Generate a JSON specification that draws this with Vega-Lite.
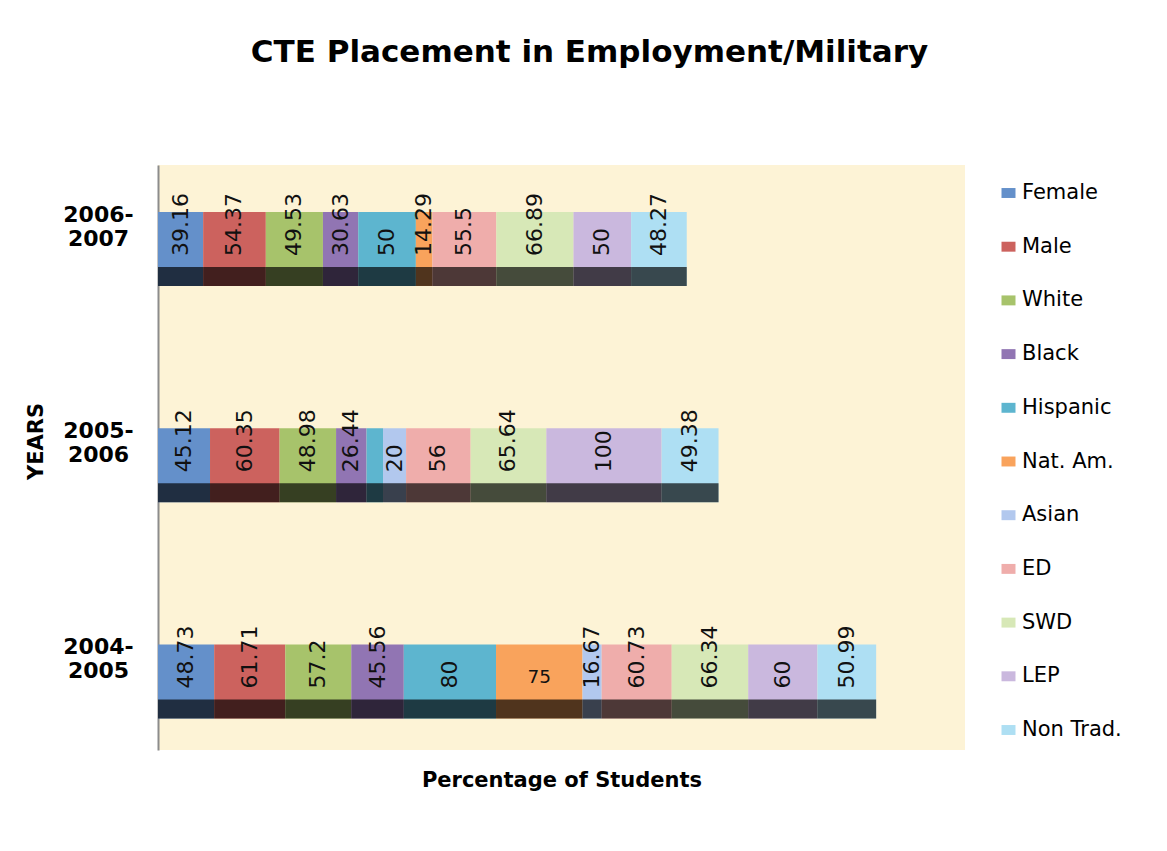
{
  "$schema": "https://vega.github.io/schema/vega-lite/v6.json",
  "autosize": "none",
  "width": 807,
  "height": 585,
  "padding": {"left": 158, "top": 165, "right": 202, "bottom": 101},
  "background": "white",
  "title": {
    "text": "CTE Placement in Employment/Military",
    "font": "DejaVu Sans",
    "fontSize": 31,
    "fontWeight": "bold",
    "color": "#000000",
    "anchor": "middle",
    "frame": "group",
    "offset": 96,
    "dx": 28
  },
  "config": {
    "view": {"fill": "#fdf3d6", "stroke": null},
    "font": "DejaVu Sans"
  },
  "data": {
    "values": [
      {"year": "2006-2007", "cat": "Female", "idx": 0, "value": 39.16, "label": "39.16"},
      {"year": "2006-2007", "cat": "Male", "idx": 1, "value": 54.37, "label": "54.37"},
      {"year": "2006-2007", "cat": "White", "idx": 2, "value": 49.53, "label": "49.53"},
      {"year": "2006-2007", "cat": "Black", "idx": 3, "value": 30.63, "label": "30.63"},
      {"year": "2006-2007", "cat": "Hispanic", "idx": 4, "value": 50, "label": "50"},
      {"year": "2006-2007", "cat": "Nat. Am.", "idx": 5, "value": 14.29, "label": "14.29"},
      {"year": "2006-2007", "cat": "ED", "idx": 7, "value": 55.5, "label": "55.5"},
      {"year": "2006-2007", "cat": "SWD", "idx": 8, "value": 66.89, "label": "66.89"},
      {"year": "2006-2007", "cat": "LEP", "idx": 9, "value": 50, "label": "50"},
      {"year": "2006-2007", "cat": "Non Trad.", "idx": 10, "value": 48.27, "label": "48.27"},
      {"year": "2005-2006", "cat": "Female", "idx": 0, "value": 45.12, "label": "45.12"},
      {"year": "2005-2006", "cat": "Male", "idx": 1, "value": 60.35, "label": "60.35"},
      {"year": "2005-2006", "cat": "White", "idx": 2, "value": 48.98, "label": "48.98"},
      {"year": "2005-2006", "cat": "Black", "idx": 3, "value": 26.44, "label": "26.44"},
      {"year": "2005-2006", "cat": "Hispanic", "idx": 4, "value": 14.3, "label": ""},
      {"year": "2005-2006", "cat": "Asian", "idx": 6, "value": 20, "label": "20"},
      {"year": "2005-2006", "cat": "ED", "idx": 7, "value": 56, "label": "56"},
      {"year": "2005-2006", "cat": "SWD", "idx": 8, "value": 65.64, "label": "65.64"},
      {"year": "2005-2006", "cat": "LEP", "idx": 9, "value": 100, "label": "100"},
      {"year": "2005-2006", "cat": "Non Trad.", "idx": 10, "value": 49.38, "label": "49.38"},
      {"year": "2004-2005", "cat": "Female", "idx": 0, "value": 48.73, "label": "48.73"},
      {"year": "2004-2005", "cat": "Male", "idx": 1, "value": 61.71, "label": "61.71"},
      {"year": "2004-2005", "cat": "White", "idx": 2, "value": 57.2, "label": "57.2"},
      {"year": "2004-2005", "cat": "Black", "idx": 3, "value": 45.56, "label": "45.56"},
      {"year": "2004-2005", "cat": "Hispanic", "idx": 4, "value": 80, "label": "80"},
      {"year": "2004-2005", "cat": "Nat. Am.", "idx": 5, "value": 75, "label": "75"},
      {"year": "2004-2005", "cat": "Asian", "idx": 6, "value": 16.67, "label": "16.67"},
      {"year": "2004-2005", "cat": "ED", "idx": 7, "value": 60.73, "label": "60.73"},
      {"year": "2004-2005", "cat": "SWD", "idx": 8, "value": 66.34, "label": "66.34"},
      {"year": "2004-2005", "cat": "LEP", "idx": 9, "value": 60, "label": "60"},
      {"year": "2004-2005", "cat": "Non Trad.", "idx": 10, "value": 50.99, "label": "50.99"}
    ]
  },
  "encoding": {
    "y": {
      "field": "year",
      "type": "nominal",
      "sort": ["2006-2007", "2005-2006", "2004-2005"],
      "scale": {"paddingInner": 0.5, "paddingOuter": 0.1026, "align": 0.674},
      "axis": {
        "title": "YEARS",
        "titleFont": "DejaVu Sans",
        "titleFontSize": 21,
        "titleFontWeight": "bold",
        "titleColor": "#000000",
        "titlePadding": 16,
        "titleY": 276,
        "labelFont": "DejaVu Sans",
        "labelFontSize": 22,
        "labelFontWeight": "bold",
        "labelColor": "#000000",
        "labelAlign": "center",
        "labelPadding": 60,
        "labelExpr": "[slice(datum.label, 0, 5), slice(datum.label, 5)]",
        "labelLineHeight": 24,
        "labelOffset": -34,
        "ticks": false,
        "domain": true,
        "domainColor": "#8c8c8c",
        "domainWidth": 2,
        "grid": false
      }
    }
  },
  "layer": [
    {
      "mark": {"type": "bar", "height": 74},
      "encoding": {
        "x": {
          "field": "value",
          "type": "quantitative",
          "stack": "zero",
          "scale": {"domain": [0, 700], "nice": false},
          "axis": {
            "labels": false,
            "ticks": false,
            "domain": false,
            "grid": false,
            "title": "Percentage of Students",
            "titleFont": "DejaVu Sans",
            "titleFontSize": 21,
            "titleFontWeight": "bold",
            "titleColor": "#000000",
            "titlePadding": 19
          }
        },
        "color": {
          "field": "cat",
          "type": "nominal",
          "scale": {
            "domain": ["Female", "Male", "White", "Black", "Hispanic", "Nat. Am.", "Asian", "ED", "SWD", "LEP", "Non Trad."],
            "range": ["#6490CA", "#CC625E", "#A7C36B", "#9175B3", "#5DB5CF", "#F9A35C", "#B2C8EE", "#EFADAB", "#D7E8B7", "#CAB8DE", "#AEDFF3"]
          },
          "legend": {
            "orient": "none",
            "legendX": 840,
            "legendY": 17.5,
            "title": null,
            "padding": 0,
            "symbolType": "M-1,-0.71H1V0.71H-1Z",
            "symbolSize": 196,
            "symbolStrokeWidth": 0,
            "labelFont": "DejaVu Sans",
            "labelFontSize": 21,
            "labelColor": "#000000",
            "labelOffset": 3,
            "rowPadding": 31.7,
            "labelLimit": 200
          }
        },
        "order": {"field": "idx", "type": "quantitative"}
      }
    },
    {
      "mark": {"type": "bar", "height": 19, "yOffset": 27.5, "color": "#000000", "opacity": 0.68},
      "encoding": {
        "x": {"field": "value", "type": "quantitative", "stack": "zero"},
        "detail": {"field": "cat", "type": "nominal"},
        "order": {"field": "idx", "type": "quantitative"}
      }
    },
    {
      "mark": {"type": "text", "angle": 270, "align": "left", "baseline": "middle", "yOffset": 7, "fontSize": 22, "font": "DejaVu Sans", "color": "#111111"},
      "encoding": {
        "x": {"field": "value", "type": "quantitative", "stack": "zero", "bandPosition": 0.5},
        "detail": {"field": "cat", "type": "nominal"},
        "order": {"field": "idx", "type": "quantitative"},
        "text": {
          "condition": {"test": "datum.cat == 'Nat. Am.' && datum.year == '2004-2005'", "value": ""},
          "field": "label",
          "type": "nominal"
        }
      }
    },
    {
      "mark": {"type": "text", "angle": 0, "align": "center", "baseline": "middle", "yOffset": -4.5, "fontSize": 18.5, "font": "DejaVu Sans", "color": "#111111"},
      "encoding": {
        "x": {"field": "value", "type": "quantitative", "stack": "zero", "bandPosition": 0.5},
        "detail": {"field": "cat", "type": "nominal"},
        "order": {"field": "idx", "type": "quantitative"},
        "text": {
          "condition": {"test": "datum.cat == 'Nat. Am.' && datum.year == '2004-2005'", "field": "label", "type": "nominal"},
          "value": ""
        }
      }
    }
  ]
}
